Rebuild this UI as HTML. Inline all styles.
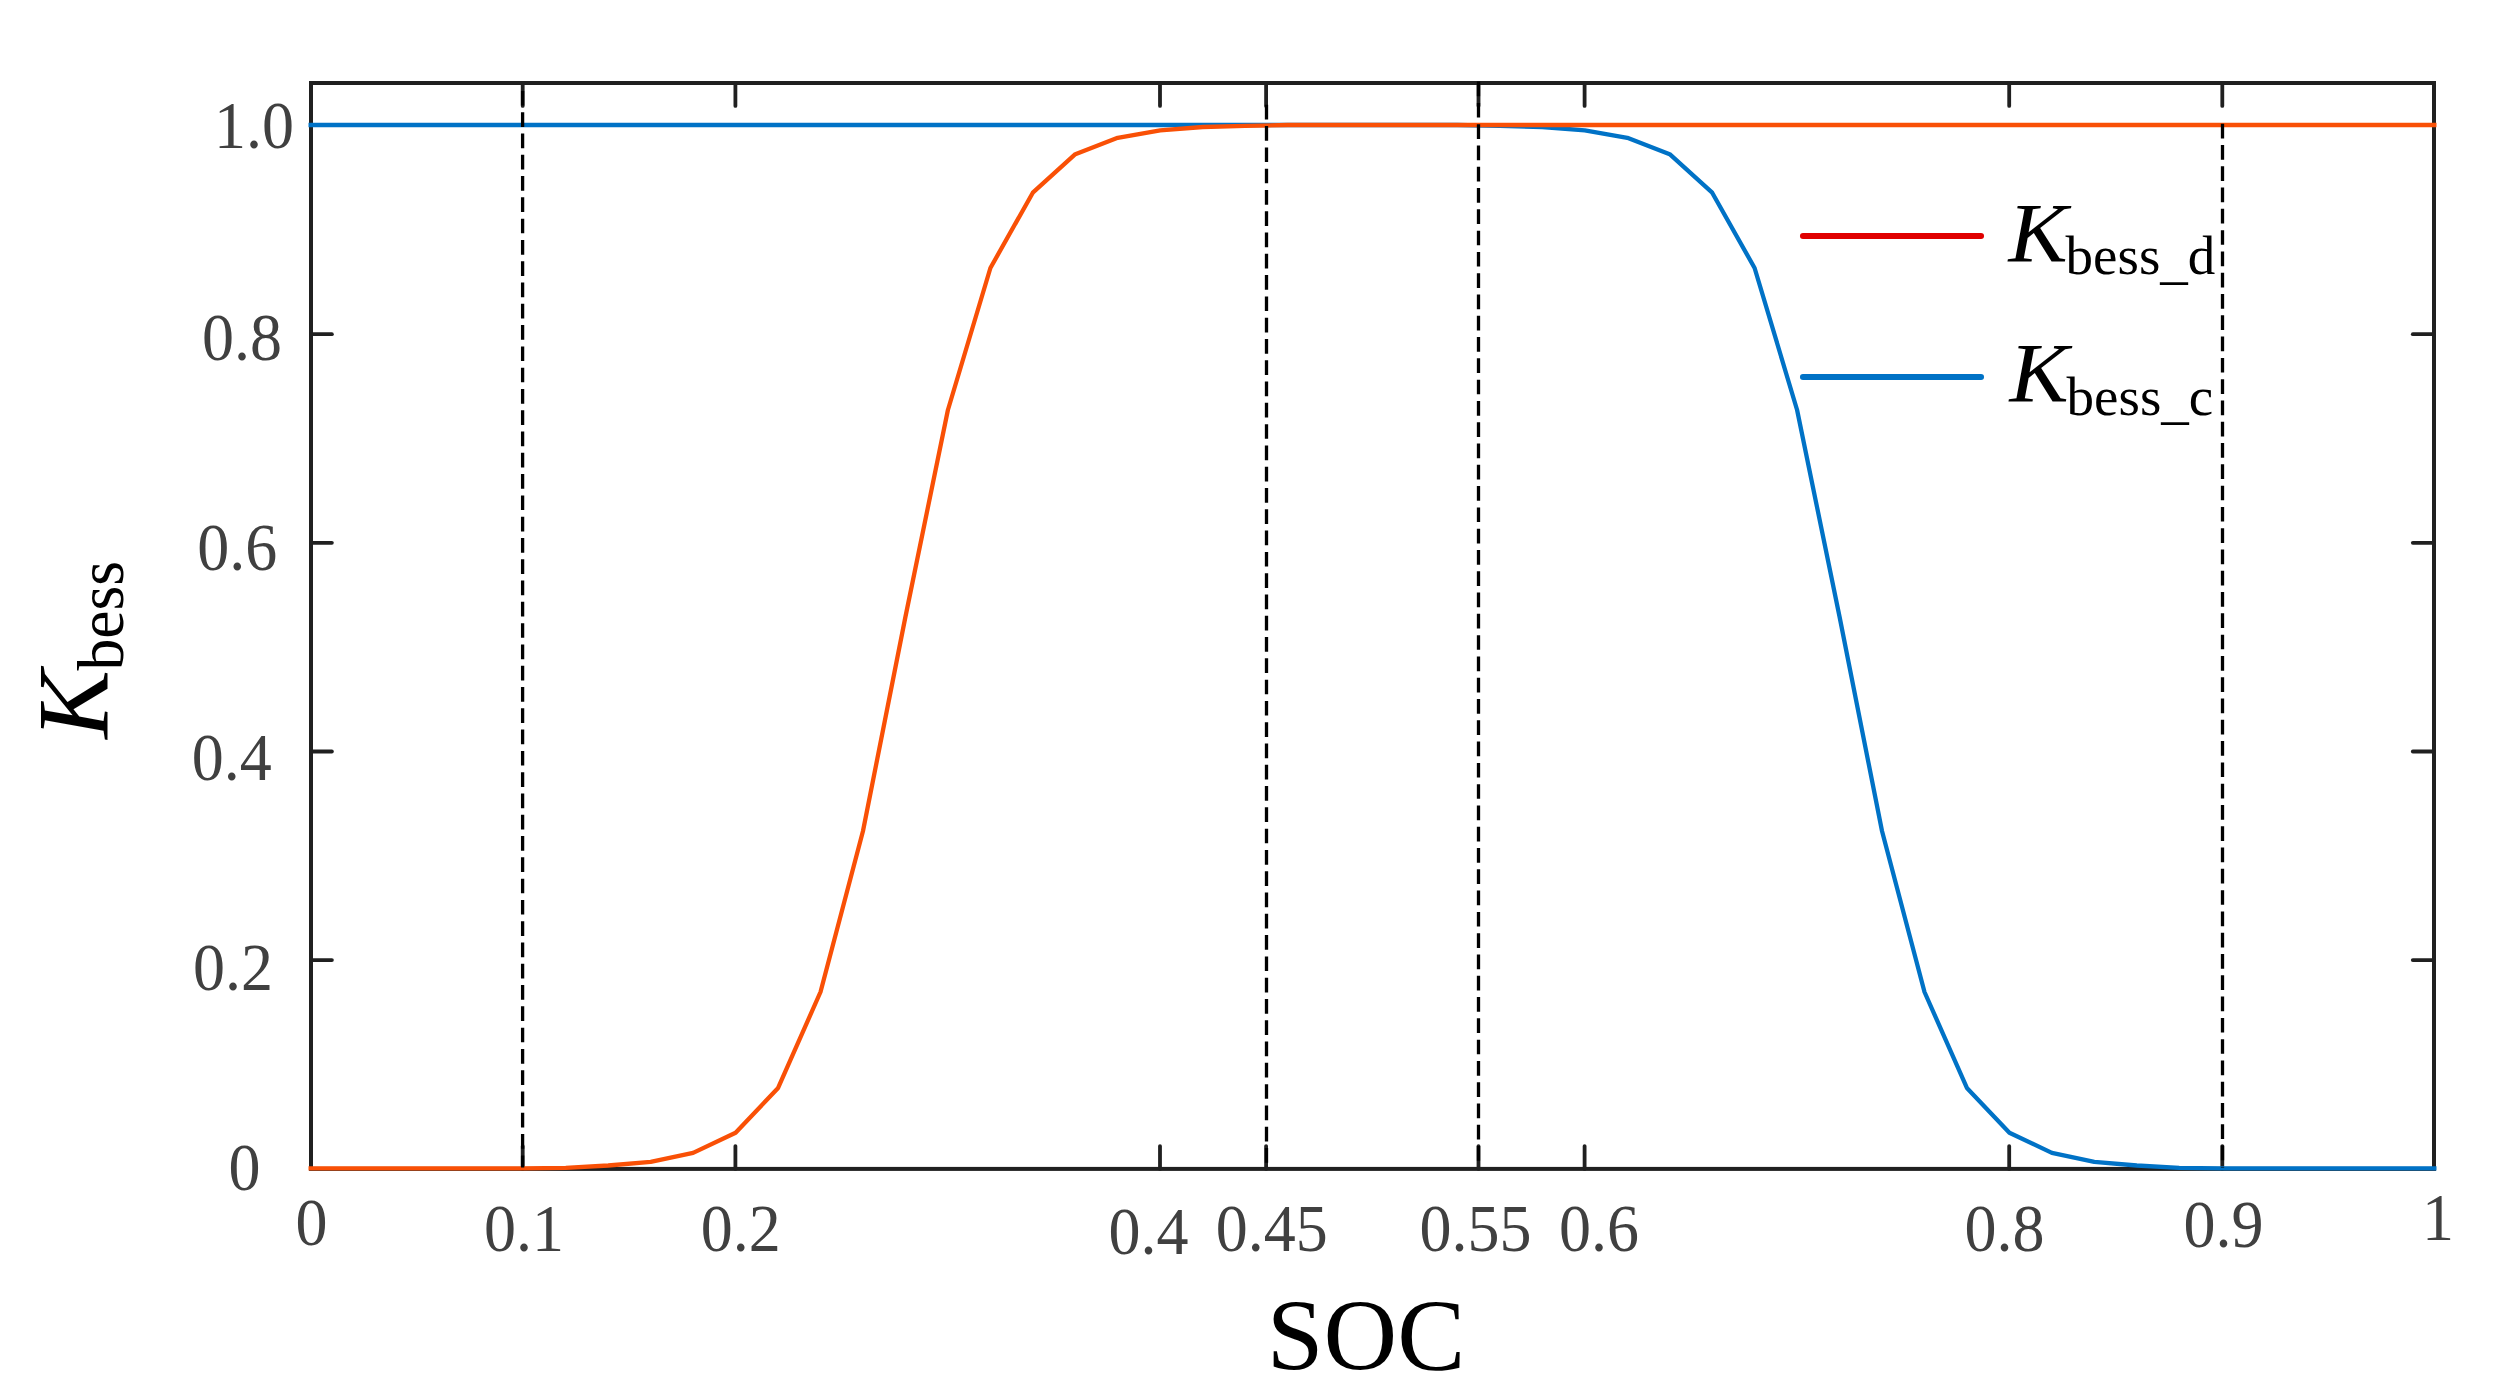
<!DOCTYPE html>
<html lang="en"><head><meta charset="utf-8"><title>K_bess vs SOC</title>
<style>
html,body{margin:0;padding:0;background:#fff;}
body{width:2496px;height:1397px;overflow:hidden;}
svg{display:block;}
text{font-family:"Liberation Serif",serif;}
.tk{font-size:64px;fill:#404040;}
.it{font-style:italic;}
</style></head><body>
<svg width="2496" height="1397" viewBox="0 0 2496 1397">
<rect width="2496" height="1397" fill="#fff"/>

<g stroke="#202020" stroke-width="3.8" stroke-linecap="round" fill="none">
<line x1="522.7" y1="83.0" x2="522.7" y2="105.9"/>
<line x1="522.7" y1="1168.9" x2="522.7" y2="1146.1"/>
<line x1="735.4" y1="83.0" x2="735.4" y2="105.9"/>
<line x1="735.4" y1="1168.9" x2="735.4" y2="1146.1"/>
<line x1="1160.0" y1="83.0" x2="1160.0" y2="105.9"/>
<line x1="1160.0" y1="1168.9" x2="1160.0" y2="1146.1"/>
<line x1="1266.1" y1="83.0" x2="1266.1" y2="105.9"/>
<line x1="1266.1" y1="1168.9" x2="1266.1" y2="1146.1"/>
<line x1="1478.5" y1="83.0" x2="1478.5" y2="105.9"/>
<line x1="1478.5" y1="1168.9" x2="1478.5" y2="1146.1"/>
<line x1="1584.6" y1="83.0" x2="1584.6" y2="105.9"/>
<line x1="1584.6" y1="1168.9" x2="1584.6" y2="1146.1"/>
<line x1="2009.2" y1="83.0" x2="2009.2" y2="105.9"/>
<line x1="2009.2" y1="1168.9" x2="2009.2" y2="1146.1"/>
<line x1="2222.3" y1="83.0" x2="2222.3" y2="105.9"/>
<line x1="2222.3" y1="1168.9" x2="2222.3" y2="1146.1"/>
<line x1="311.0" y1="960.1" x2="331.9" y2="960.1"/>
<line x1="2434.0" y1="960.1" x2="2412.8" y2="960.1"/>
<line x1="311.0" y1="751.5" x2="331.9" y2="751.5"/>
<line x1="2434.0" y1="751.5" x2="2412.8" y2="751.5"/>
<line x1="311.0" y1="542.8" x2="331.9" y2="542.8"/>
<line x1="2434.0" y1="542.8" x2="2412.8" y2="542.8"/>
<line x1="311.0" y1="334.2" x2="331.9" y2="334.2"/>
<line x1="2434.0" y1="334.2" x2="2412.8" y2="334.2"/>
</g>
<rect x="311.0" y="83.0" width="2123.0" height="1085.9" fill="none" stroke="#202020" stroke-width="4"/>
<polyline points="308.5,125.0 353.5,125.0 395.9,125.0 438.4,125.0 480.8,125.0 523.3,125.0 565.8,125.0 608.2,125.0 650.7,125.0 693.1,125.0 735.6,125.0 778.1,125.0 820.5,125.0 863.0,125.0 905.4,125.0 947.9,125.0 990.4,125.0 1032.8,125.0 1075.3,125.0 1117.7,125.0 1160.2,125.0 1202.7,125.0 1245.1,125.0 1287.6,125.0 1330.0,125.0 1372.5,125.0 1415.0,125.0 1457.4,125.0 1499.9,125.8 1542.3,127.0 1584.8,130.4 1627.3,137.8 1669.7,154.2 1712.2,192.7 1754.6,268.0 1797.1,410.0 1839.6,617.0 1882.0,831.0 1924.5,992.0 1966.9,1087.9 2009.4,1132.8 2051.9,1152.9 2094.3,1161.9 2136.8,1165.5 2179.2,1167.8 2221.7,1168.3 2264.2,1168.3 2306.6,1168.3 2349.1,1168.3 2391.5,1168.3 2436.5,1168.3" fill="none" stroke="#0072c6" stroke-width="4.3" stroke-linejoin="round"/>
<polyline points="308.5,1168.3 353.5,1168.3 395.9,1168.3 438.4,1168.3 480.8,1168.3 523.3,1168.3 565.8,1167.8 608.2,1165.5 650.7,1161.9 693.1,1152.9 735.6,1132.8 778.1,1087.9 820.5,992.0 863.0,831.0 905.4,617.0 947.9,410.0 990.4,268.0 1032.8,192.7 1075.3,154.2 1117.7,137.8 1160.2,130.4 1202.7,127.0 1245.1,125.8 1287.6,125.0 1330.0,125.0 1372.5,125.0 1415.0,125.0 1457.4,125.0 1499.9,125.0 1542.3,125.0 1584.8,125.0 1627.3,125.0 1669.7,125.0 1712.2,125.0 1754.6,125.0 1797.1,125.0 1839.6,125.0 1882.0,125.0 1924.5,125.0 1966.9,125.0 2009.4,125.0 2051.9,125.0 2094.3,125.0 2136.8,125.0 2179.2,125.0 2221.7,125.0 2264.2,125.0 2306.6,125.0 2349.1,125.0 2391.5,125.0 2436.5,125.0" fill="none" stroke="#f95006" stroke-width="4.3" stroke-linejoin="round"/>
<g stroke="#000" stroke-width="3.3" stroke-dasharray="14.7 6.59" fill="none">
<line x1="522.6" y1="90.9" x2="522.6" y2="1167.5"/>
<line x1="1266.5" y1="104.8" x2="1266.5" y2="1167.5"/>
<line x1="1478.5" y1="81.6" x2="1478.5" y2="1167.5"/>
<line x1="2222.5" y1="123.7" x2="2222.5" y2="1167.5"/>
</g>
<text class="tk" transform="translate(295.5,1244.6) scale(1,1.05)">0</text>
<text class="tk" transform="translate(484.1,1251) scale(1,1.05)">0.1</text>
<text class="tk" transform="translate(700.8,1251) scale(1,1.05)">0.2</text>
<text class="tk" transform="translate(1108.4,1253.5) scale(1,1.05)">0.4</text>
<text class="tk" transform="translate(1215.7,1251) scale(1,1.05)">0.45</text>
<text class="tk" transform="translate(1419.4,1251) scale(1,1.05)">0.55</text>
<text class="tk" transform="translate(1559.1,1251) scale(1,1.05)">0.6</text>
<text class="tk" transform="translate(1964.6,1251) scale(1,1.05)">0.8</text>
<text class="tk" transform="translate(2183.5,1247) scale(1,1.05)">0.9</text>
<text class="tk" transform="translate(2422.1,1240.4) scale(1,1.05)">1</text>
<text class="tk" transform="translate(213.9,148.2) scale(1,1.05)">1.0</text>
<text class="tk" transform="translate(202.1,360.2) scale(1,1.05)">0.8</text>
<text class="tk" transform="translate(197.2,570.2) scale(1,1.05)">0.6</text>
<text class="tk" transform="translate(191.8,780.2) scale(1,1.05)">0.4</text>
<text class="tk" transform="translate(193.0,990.2) scale(1,1.05)">0.2</text>
<text class="tk" transform="translate(228.5,1190.2) scale(1,1.05)">0</text>
<line x1="1803" y1="236" x2="1981" y2="236" stroke="#e00000" stroke-width="6.1" stroke-linecap="round"/>
<line x1="1803" y1="377" x2="1981" y2="377" stroke="#0072c6" stroke-width="6.1" stroke-linecap="round"/>
<text transform="translate(2008.5,261.8) scale(1.055,1)" font-size="84" class="it" fill="#000">K</text>
<text x="2065.6" y="274.2" font-size="55" fill="#000">bess<tspan dy="3.6">_</tspan><tspan dy="-3.6">d</tspan></text>
<text transform="translate(2009.5,402) scale(1.055,1)" font-size="84" class="it" fill="#000">K</text>
<text x="2066.6" y="414.5" font-size="55" fill="#000">bess<tspan dy="3.6">_</tspan><tspan dy="-3.6">c</tspan></text>
<text x="1266.8" y="1369.9" font-size="102" fill="#000">SOC</text>
<g transform="translate(107.9,738.8) rotate(-90)"><text transform="scale(1.02,1)" font-size="101" class="it" fill="#000">K</text><text transform="translate(68.2,15.2) scale(0.98,1)" font-size="65" fill="#000">bess</text></g>
</svg></body></html>
